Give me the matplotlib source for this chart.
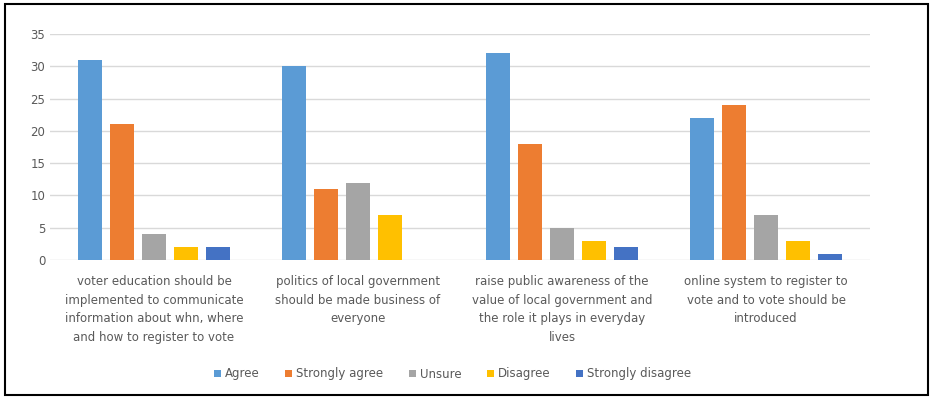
import numpy as np
import matplotlib.pyplot as plt
from matplotlib.patches import Rectangle

categories = [
    "voter education should be\nimplemented to communicate\ninformation about whn, where\nand how to register to vote",
    "politics of local government\nshould be made business of\neveryone",
    "raise public awareness of the\nvalue of local government and\nthe role it plays in everyday\nlives",
    "online system to register to\nvote and to vote should be\nintroduced",
]
series = ["Agree", "Strongly agree", "Unsure", "Disagree", "Strongly disagree"]
agree = [31, 30, 32, 22]
strongly_agree = [21, 11, 18, 24]
unsure = [4, 12, 5, 7]
disagree = [2, 7, 3, 3]
strongly_disagree = [2, 0, 2, 1]
values = [agree, strongly_agree, unsure, disagree, strongly_disagree]
colors = ["#5B9BD5", "#ED7D31", "#A5A5A5", "#FFC000", "#4472C4"]

fig = plt.figure(figsize=(9.33, 4.0), dpi=100)
ax = fig.add_axes([0.0536, 0.35, 0.879, 0.565])

x = np.arange(len(categories))
step = 32 / 205
width = 24 / 205
for i, (name, vals, c) in enumerate(zip(series, values, colors)):
    ax.bar(x + (i - 2) * step, vals, width, color=c, label=name, zorder=3)

ax.set_xlim(-0.51, len(categories) - 0.49)
ax.set_ylim(0, 35)
ax.set_yticks(range(0, 36, 5))
ax.yaxis.grid(True, color="#D9D9D9", linewidth=1, zorder=0)
for s in ax.spines.values():
    s.set_visible(False)
ax.tick_params(axis="both", length=0, colors="#595959", labelsize=8.5)
ax.set_xticks(x)
ax.set_xticklabels(categories, linespacing=1.55)
ax.tick_params(axis="x", pad=11)

h, l = ax.get_legend_handles_labels()
fig.legend(h, l, loc="center", bbox_to_anchor=(0.485, 0.065), ncol=5, frameon=False,
           fontsize=8.5, handlelength=0.6, handleheight=0.6, handletextpad=0.3,
           columnspacing=2.2, labelcolor="#595959")

fig.patches.append(Rectangle((0.005, 0.012), 0.99, 0.978, transform=fig.transFigure,
                             fill=False, edgecolor="black", linewidth=1.5))

fig.savefig("out.png", dpi=100)
